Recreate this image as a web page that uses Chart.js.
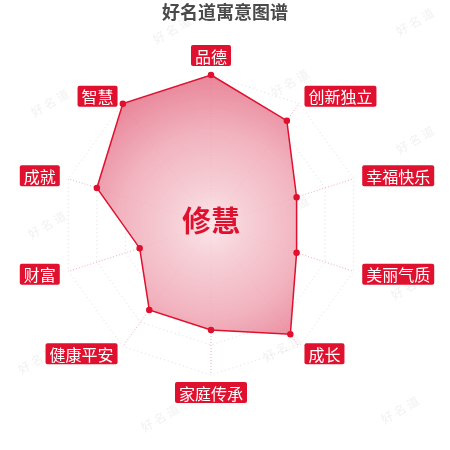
<!DOCTYPE html>
<html>
<head>
<meta charset="utf-8">
<script src="https://cdn.jsdelivr.net/npm/chart.js@4.4.0/dist/chart.umd.min.js"></script>
<style>
html,body{margin:0;padding:0;background:#fff;}
#wrap{width:450px;height:450px;position:relative;}
</style>
</head>
<body>
<div id="wrap"><canvas id="c"></canvas></div>
<script>
const titleText = '好名道寓意图谱';
const centerText = '修慧';
const categories = ['品德','创新独立','幸福快乐','美丽气质','成长','家庭传承','健康平安','财富','成就','智慧'];
const values = [100, 86, 60, 60, 90, 70, 70, 50, 80, 100];
const scaleMin = 0;
const scaleMax = 100;
const scaleStep = 20;
const watermarkText = '好名道';
const watermarkSpots = [[172,30],[415,22],[50,103],[290,83],[415,140],[47,225],[410,286],[37,360],[160,418],[282,348],[400,410],[170,158],[290,210]];

const RED = '#e0102f';
const FONT = '"Noto Sans CJK SC", "Noto Sans", sans-serif';

const decorPlugin = {
  id: 'decor',
  beforeDraw(chart) {
    const ctx = chart.ctx;
    ctx.save();
    ctx.fillStyle = 'rgba(200,200,200,0.25)';
    ctx.font = '12px ' + FONT;
    ctx.textAlign = 'center';
    ctx.textBaseline = 'middle';
    watermarkSpots.forEach(([x, y]) => {
      ctx.save();
      ctx.translate(x, y);
      ctx.rotate(-Math.PI / 6);
      ctx.fillText(watermarkText.split('').join(' '), 0, 0);
      ctx.restore();
    });
    ctx.fillStyle = '#4a4a4a';
    ctx.font = 'bold 18px ' + FONT;
    ctx.fillText(titleText, 225, 12);
    ctx.restore();
  },
  afterDraw(chart) {
    const ctx = chart.ctx;
    const s = chart.scales.r;
    ctx.save();
    // center text
    ctx.fillStyle = RED;
    ctx.font = 'bold 29px ' + FONT;
    ctx.textAlign = 'center';
    ctx.textBaseline = 'middle';
    ctx.fillText(centerText, s.xCenter, s.yCenter - 4);
    // labels
    ctx.font = '16px ' + FONT;
    const padX = 4, h = 21;
    categories.forEach((lab, i) => {
      const p = s.getPointPosition(i, s.drawingArea + 9);
      const w = ctx.measureText(lab).width + padX * 2;
      const dx = p.x - s.xCenter;
      let left;
      if (Math.abs(dx) < 2) left = p.x - w / 2;
      else if (dx > 0) left = p.x;
      else left = p.x - w;
      let top;
      if (Math.abs(dx) < 2 && p.y < s.yCenter) top = p.y - h;
      else if (Math.abs(dx) < 2) top = p.y - 2;
      else top = p.y - h / 2;
      ctx.fillStyle = RED;
      ctx.beginPath();
      ctx.roundRect ? ctx.roundRect(left, top, w, h, 2) : ctx.rect(left, top, w, h);
      ctx.fill();
      ctx.fillStyle = '#ffffff';
      ctx.textAlign = 'center';
      ctx.fillText(lab, left + w / 2, top + h / 2 + 1);
    });
    ctx.restore();
  }
};

function fillGradient(context) {
  const chart = context.chart;
  const s = chart.scales.r;
  if (!chart.chartArea || !s) return 'rgba(236,140,160,0.8)';
  const g = chart.ctx.createRadialGradient(s.xCenter, s.yCenter, 0, s.xCenter, s.yCenter, s.drawingArea);
  g.addColorStop(0, 'rgba(250,228,232,0.9)');
  g.addColorStop(0.25, 'rgba(245,200,208,0.88)');
  g.addColorStop(0.6, 'rgba(240,170,183,0.88)');
  g.addColorStop(1, 'rgba(230,120,142,0.9)');
  return g;
}

new Chart(document.getElementById('c'), {
  type: 'radar',
  data: {
    labels: categories,
    datasets: [{
      data: values,
      backgroundColor: fillGradient,
      borderColor: RED,
      borderWidth: 1.5,
      pointBackgroundColor: RED,
      pointBorderColor: RED,
      pointRadius: 2.5,
      fill: true
    }]
  },
  options: {
    responsive: true,
    maintainAspectRatio: false,
    animation: false,
    devicePixelRatio: 1,
    layout: { padding: { left: 61, right: 89, top: 75, bottom: 75 } },
    plugins: { legend: { display: false }, tooltip: { enabled: false }, title: { display: false } },
    scales: {
      r: {
        min: scaleMin,
        max: scaleMax,
        ticks: { display: false, stepSize: scaleStep },
        pointLabels: { display: false },
        grid: { color: 'rgba(200,200,200,0.6)', lineWidth: 1 },
        border: { dash: [1, 3] },
        angleLines: { color: 'rgba(236,150,170,0.8)', lineWidth: 1, borderDash: [1, 2] }
      }
    }
  },
  plugins: [decorPlugin]
});
</script>
</body>
</html>
